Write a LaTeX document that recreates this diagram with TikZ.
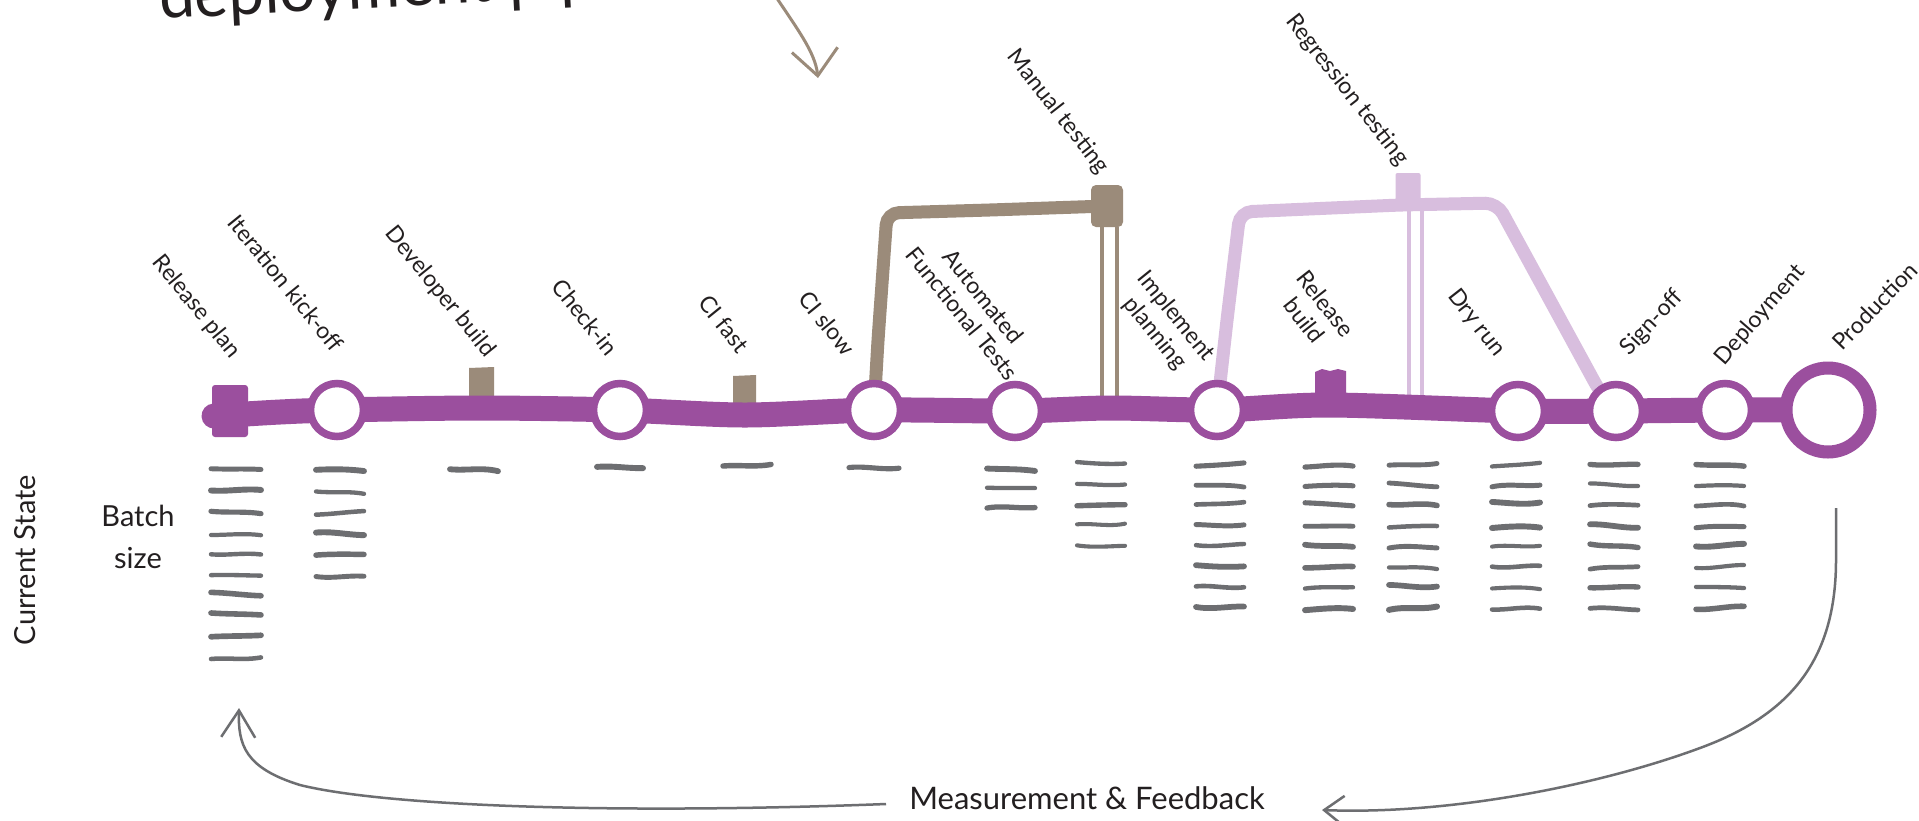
\documentclass[tikz,border=0pt]{standalone}
\usepackage{fontspec}
\setmainfont{Lato}
\usetikzlibrary{arrows.meta}
\definecolor{pur}{HTML}{9B4F9E}
\definecolor{lpur}{HTML}{D8BEDE}
\definecolor{brn}{HTML}{9B8B7A}
\definecolor{gry}{HTML}{6D6E71}
\definecolor{ink}{HTML}{231F20}
\pgfdeclarelayer{back}
\pgfdeclarelayer{bg}
\pgfsetlayers{back,bg,main}
\newcommand\graydash[3]{%
  \pgfmathsetmacro\gdA{rand*2.2}%
  \pgfmathsetmacro\gdB{rand*2.2}%
  \pgfmathsetmacro\gdC{rand*2.4}%
  \pgfmathsetmacro\gdW{4.0+rnd*2.0}%
  \draw[gry,line cap=round,line width=\gdW pt] ({#1-#3/2},{#2+\gdA}) .. controls ({#1-#3/6},{#2+\gdC}) and ({#1+#3/6},{#2-\gdC}) .. ({#1+#3/2},{#2+\gdB});}
\begin{document}
\begin{tikzpicture}[x=1pt,y=-1pt,
  station/.style={circle,draw=pur,line width=7.5pt,fill=white,minimum size=53pt,inner sep=0pt},
  prodstation/.style={station,line width=13pt,minimum size=84pt},
  lbl/.style={font=\fontsize{23}{27}\selectfont,inner sep=0pt,align=center,text=ink},
  mainline/.style={draw=pur,line width=25pt,line cap=round,line join=round},
  brnline/.style={draw=brn,line width=13pt,rounded corners=12pt},
  lpline/.style={draw=lpur,line width=13pt,rounded corners=12pt},
  thinbrn/.style={draw=brn,line width=3.3pt},
  thinlp/.style={draw=lpur,line width=3.3pt},
  fb/.style={draw=gry,line width=2.5pt},
]
\useasboundingbox (0,0) rectangle (1919,820);
\begin{pgfonlayer}{back}
\fill[white] (0,0) rectangle (1919,820);
\end{pgfonlayer}
\pgfmathsetseed{7}

% title (cut off at the top) and top arrow
\begin{scope}
\clip (0,0) rectangle (1919,820);
\node[anchor=base west,rotate=3,inner sep=0pt,font=\fontsize{64}{66}\selectfont,text=ink] (title) at (160,19) {deployment pipeline};
\coordinate (ta) at (770,-12);
\coordinate (tb) at (818,78);
\draw[brn,line width=3pt,-{Straight Barb[length=26pt,width=46pt]}] (ta) .. controls (798,30) and (815,52) .. (tb);
\end{scope}

% stations
\node[fill=pur,minimum width=36pt,minimum height=52pt,rounded corners=3pt,inner sep=0pt] (rp) at (230,411) {};
\node[station] (s1) at (337,410) {};
\node[station] (s2) at (620,410) {};
\node[station] (s3) at (874,410) {};
\node[station] (s4) at (1015,411) {};
\node[station] (s5) at (1217,410) {};
\node[station] (s6) at (1518,411) {};
\node[station] (s7) at (1616,411) {};
\node[station] (s8) at (1725,410) {};
\node[prodstation] (prod) at (1828,410) {};

% branch terminals
\node[fill=brn,minimum width=32pt,minimum height=42pt,rounded corners=5pt,inner sep=0pt] (mt) at (1107,206) {};
\node[fill=lpur,minimum width=25pt,minimum height=28pt,rounded corners=2pt,inner sep=0pt] (rt) at (1408,187) {};

\begin{pgfonlayer}{bg}
  % stubs
  \fill[brn] (469,368) -- (494,367) -- (494,404) -- (469,404) -- cycle;
  \fill[brn] (733,376) -- (756,375) -- (756,410) -- (733,410) -- cycle;
  \fill[pur] (1315,372) -- (1322,369) -- (1330,371) -- (1338,369) -- (1346,371) -- (1346,404) -- (1315,404) -- cycle;
  % manual testing branch
  \draw[brnline] (s3.center) -- (878,340) -- (887,213) -- (990,210) -- (mt.center);
  \draw[thinbrn] ([xshift=-5pt]mt.south) -- ++(0,178);
  \draw[thinbrn] ([xshift=10pt]mt.south) -- ++(0,178);
  % regression testing branch
  \draw[lpline] (s5.center) -- (1227,320) -- (1240,212) -- (1400,205) -- (1497,203) -- (1600,392) -- (s7.center);
  \draw[thinlp] ([xshift=1pt]rt.south) -- ++(0,205);
  \draw[thinlp] ([xshift=14pt]rt.south) -- ++(0,205);
  % main line
  \draw[mainline] plot[smooth,tension=0.5] coordinates {(214,416) (280,412) (s1.center) (480,408) (s2.center) (745,415) (s3.center) (s4.center) (1110,408) (s5.center) (1330,405) (s6.center) (s7.center) (s8.center) (prod.center)};
\end{pgfonlayer}

% labels
\node[lbl,rotate=-51] (l1) at (196,307) {Release plan};
\node[lbl,rotate=-51] (l2) at (286,283) {Iteration kick-off};
\node[lbl,rotate=-51] (l3) at (440,292) {Developer build};
\node[lbl,rotate=-51] (l4) at (585,317) {Check-in};
\node[lbl,rotate=-51] (l5) at (724,324) {CI fast};
\node[lbl,rotate=-51] (l6) at (827,323) {CI slow};
\node[lbl,rotate=-51] (l7) at (973,305) {Automated\\Functional Tests};
\node[lbl,rotate=-52] (l8) at (1058,112) {Manual testing};
\node[lbl,rotate=-51] (l9) at (1165,325) {Implement\\planning};
\node[lbl,rotate=-52] (l10) at (1315,312) {Release\\build};
\node[lbl,rotate=-52] (l11) at (1347,90) {Regression testing};
\node[lbl,rotate=-52] (l12) at (1476,323) {Dry run};
\node[lbl,rotate=47] (l13) at (1652,323) {Sign-off};
\node[lbl,rotate=49] (l14) at (1760,315) {Deployment};
\node[lbl,rotate=46] (l15) at (1875,306) {Production};

\node[rotate=90,inner sep=0pt,text=ink,font=\fontsize{29}{34}\selectfont] (cs) at (25,560) {Current State};
\node[align=center,inner sep=0pt,text=ink,font=\fontsize{29}{42}\selectfont] (bs) at (138,537) {Batch\\size};

% batch size dashes
\foreach \yy in {469,490,512,534,554,575,594,614,636,659} {\graydash{236}{\yy}{50}}
\foreach \yy in {469,492,513,533,554,577} {\graydash{340}{\yy}{48}}
\graydash{474}{469}{48}
\graydash{620}{467}{46}
\graydash{747}{466}{48}
\graydash{874}{468}{50}
\foreach \yy in {469,488,507} {\graydash{1011}{\yy}{48}}
\foreach \yy in {464,485,505,525,547} {\graydash{1101}{\yy}{48}}
\foreach \xx in {1220,1329,1413,1516,1614,1720} {
  \foreach \yy in {465,485,504,526,546,567,587,608} {\graydash{\xx}{\yy}{48}}
}

% measurement and feedback
\node[inner sep=0pt,text=ink,font=\fontsize{31}{34}\selectfont] (mf) at (1087,798) {Measurement \& Feedback};
\coordinate (fa) at (1836,508);
\coordinate (fe) at (1322,810);
\draw[fb,-{Straight Barb[length=20pt,width=30pt]}] (fa) -- (1836,560) .. controls (1836,660) and (1790,715) .. (1700,748) .. controls (1600,785) and (1450,815) .. (fe);
\coordinate (fs) at (886,804);
\coordinate (ft) at (239,708);
\draw[fb,-{Straight Barb[length=27pt,width=34pt]}] (fs) .. controls (600,815) and (380,805) .. (300,785) .. controls (245,768) and (238,745) .. (ft);
\end{tikzpicture}
\end{document}
